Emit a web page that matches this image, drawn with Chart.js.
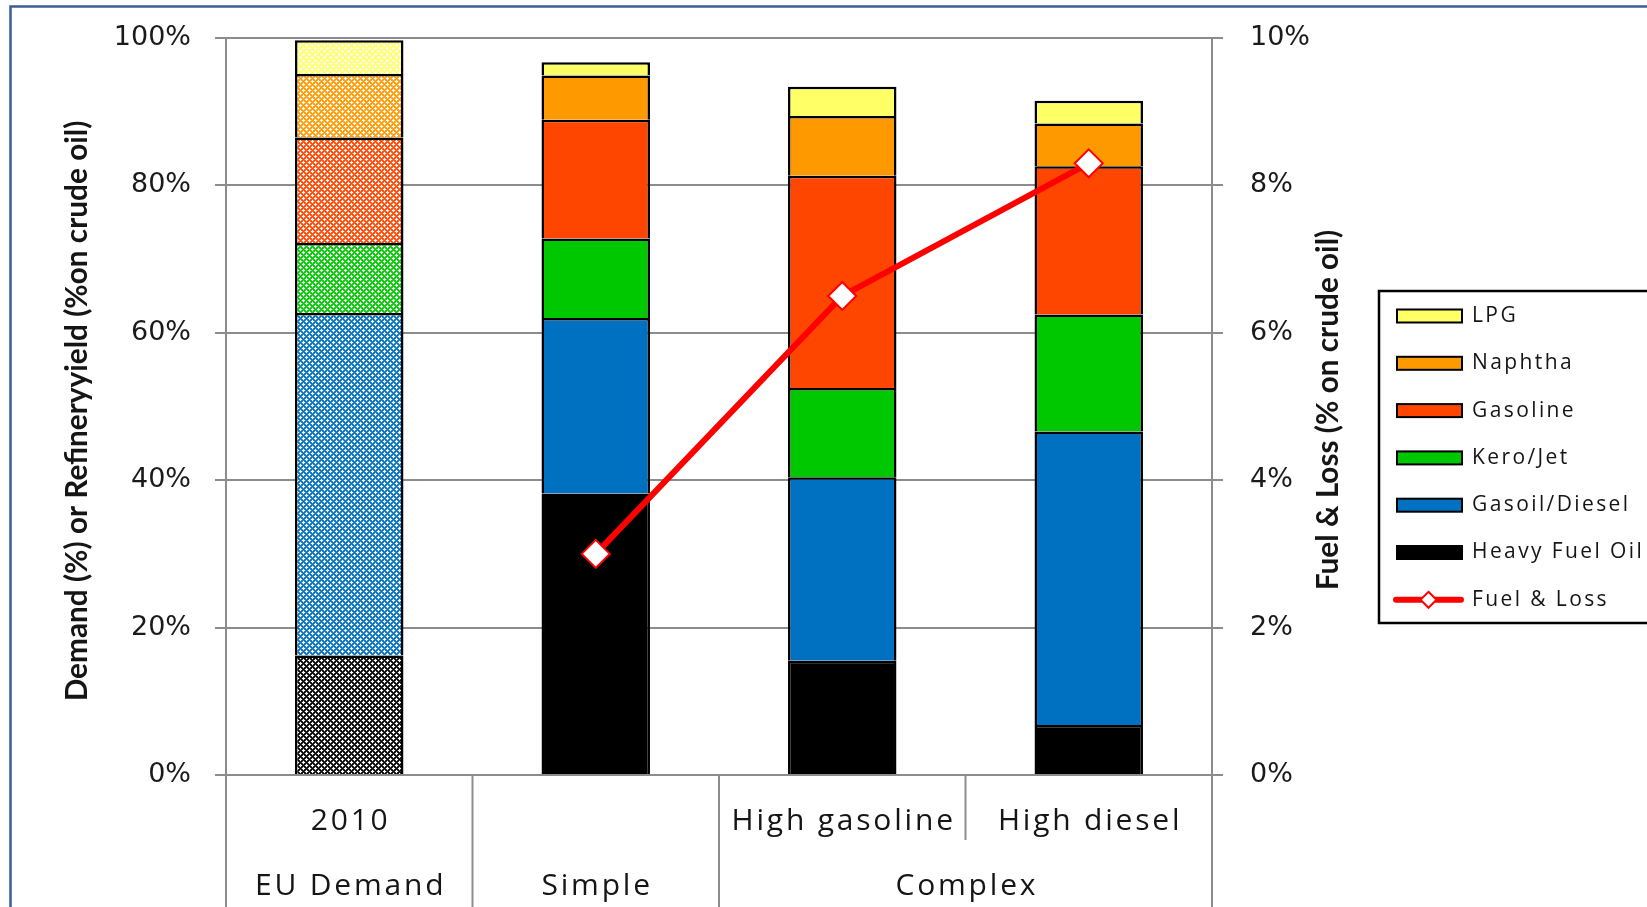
<!DOCTYPE html>
<html><head><meta charset="utf-8">
<script src="https://cdn.jsdelivr.net/npm/chart.js@4.4.1/dist/chart.umd.min.js"></script>
<style>html,body{margin:0;padding:0;background:#fff;overflow:hidden}canvas{display:block}</style>
</head><body>
<canvas id="c" width="1647" height="907"></canvas>
<script>
// ---- data ----
const categories = ['2010', '', 'High gasoline', 'High diesel'];
const groupLabels = ['EU Demand', 'Simple', 'Complex'];
const groupSpans = [1, 1, 2];
const heavyFuelOil = [16.2, 38.2, 15.5, 6.8];
const gasoilDiesel = [46.5, 23.8, 24.9, 39.8];
const keroJet = [9.5, 10.8, 12.1, 15.9];
const gasoline = [14.3, 16.1, 28.8, 20.1];
const naphtha = [8.6, 6.0, 8.1, 5.8];
const lpg = [4.6, 1.8, 4.0, 3.1];
const fuelLoss = [null, 3.0, 6.5, 8.3];
const leftTicks = ['0%', '20%', '40%', '60%', '80%', '100%'];
const rightTicks = ['0%', '2%', '4%', '6%', '8%', '10%'];
const leftTitle = 'Demand (%) or Refineryyield (%on crude oil)';
const rightTitle = 'Fuel & Loss (% on crude oil)';

// ---- styles ----
const COL = {
  hfo: '#000000', gasoil: '#0070C0', kero: '#00C800', gasoline: '#FF4600', naphtha: '#FF9900', lpg: '#FFFF66'
};
const GRID = '#8c8c8c';
const canvas = document.getElementById('c');
const ctx0 = canvas.getContext('2d');

function makePattern(color) {
  const c = document.createElement('canvas'); c.width = 6; c.height = 6;
  const g = c.getContext('2d');
  g.fillStyle = '#fff'; g.fillRect(0, 0, 6, 6);
  g.fillStyle = color;
  for (let y = 0; y < 6; y++) for (let x = 0; x < 6; x++) {
    let a = ((x - y) % 6 + 6) % 6; a = Math.min(a, 6 - a);
    let b = (x + y) % 6; b = Math.min(b, 6 - b);
    const d = Math.min(a, b);
    if (d === 0) { g.globalAlpha = 1; g.fillRect(x, y, 1, 1); }
    else if (d === 1) { g.globalAlpha = 0.8; g.fillRect(x, y, 1, 1); }
  }
  return ctx0.createPattern(c, 'repeat');
}
function fills(color) { return [makePattern(color), color, color, color]; }

function barSet(label, data, color) {
  return {
    type: 'bar', label, data, backgroundColor: fills(color), legendColor: color,
    borderColor: '#000', borderWidth: 2.5, yAxisID: 'y', order: 1,
    barPercentage: 0.44, categoryPercentage: 1.0
  };
}

const datasets = [
  barSet('Heavy Fuel Oil', heavyFuelOil, COL.hfo),
  barSet('Gasoil/Diesel', gasoilDiesel, COL.gasoil),
  barSet('Kero/Jet', keroJet, COL.kero),
  barSet('Gasoline', gasoline, COL.gasoline),
  barSet('Naphtha', naphtha, COL.naphtha),
  barSet('LPG', lpg, COL.lpg),
  {
    type: 'line', label: 'Fuel & Loss', data: fuelLoss, yAxisID: 'y1', order: 0,
    borderColor: '#ff0000', borderWidth: 6, tension: 0,
    pointStyle: 'rectRot', pointRadius: 14, pointBackgroundColor: '#ffffff',
    pointBorderColor: '#ff0000', pointBorderWidth: 2, legendColor: '#ff0000'
  }
];

function drawText(ctx, s, x, y, font, spacing, align) {
  ctx.save();
  ctx.font = font;
  try { ctx.letterSpacing = spacing + 'px'; } catch (e) {}
  ctx.textAlign = align || 'center';
  ctx.textBaseline = 'middle';
  ctx.fillStyle = '#151515';
  const dx = (align === 'center' || !align) ? spacing / 2 : 0;
  ctx.fillText(s, x + dx, y);
  ctx.restore();
}

const decor = {
  id: 'decor',
  afterDraw(chart) {
    const ctx = chart.ctx;
    const xs = chart.scales.x;
    const area = chart.chartArea;
    const n = categories.length;
    const centers = categories.map((_, i) => xs.getPixelForValue(i));
    const bounds = [area.left];
    for (let i = 1; i < n; i++) bounds.push((centers[i - 1] + centers[i]) / 2);
    bounds.push(area.right);

    // separators
    const groupEdges = [0];
    groupSpans.reduce((acc, s) => { acc += s; groupEdges.push(acc); return acc; }, 0);
    ctx.save();
    ctx.strokeStyle = GRID; ctx.lineWidth = 2;
    for (let i = 0; i <= n; i++) {
      const isGroup = groupEdges.includes(i);
      ctx.beginPath();
      ctx.moveTo(bounds[i], area.bottom);
      ctx.lineTo(bounds[i], isGroup ? 907 : 840);
      ctx.stroke();
    }
    ctx.restore();

    // category labels
    const catFont = '30px "Open Sans"';
    categories.forEach((c, i) => { if (c) drawText(ctx, c, centers[i], 821, catFont, 2.8, 'center'); });
    groupLabels.forEach((g, gi) => {
      const x = (bounds[groupEdges[gi]] + bounds[groupEdges[gi + 1]]) / 2;
      drawText(ctx, g, x, 886, catFont, 2.8, 'center');
    });

    // axis titles
    ctx.save();
    ctx.font = 'bold 28px Lato';
    const w = ctx.measureText(leftTitle).width;
    const size = 28 * 581 / w;
    ctx.restore();
    const tfont = 'bold ' + size.toFixed(2) + 'px Lato';
    [[leftTitle, 77, 411], [rightTitle, 1328, 410]].forEach(([t, x, y]) => {
      ctx.save();
      ctx.translate(x, y); ctx.rotate(-Math.PI / 2);
      drawText(ctx, t, 0, 0, tfont, 0, 'center');
      ctx.restore();
    });

    // legend
    ctx.save();
    ctx.strokeStyle = '#000'; ctx.lineWidth = 2.5;
    ctx.strokeRect(1379, 291, 320, 332);
    const items = chart.data.datasets.slice(0, 6).reverse().concat([chart.data.datasets[6]]);
    items.forEach((ds, i) => {
      const cy = 316 + i * 47.3;
      if (ds.type === 'line') {
        ctx.strokeStyle = ds.borderColor; ctx.lineWidth = 6; ctx.lineCap = 'round';
        ctx.beginPath(); ctx.moveTo(1396, cy); ctx.lineTo(1461, cy); ctx.stroke();
        ctx.fillStyle = '#fff'; ctx.lineWidth = 2; ctx.lineCap = 'butt';
        ctx.beginPath();
        ctx.moveTo(1428.5, cy - 8); ctx.lineTo(1436.5, cy); ctx.lineTo(1428.5, cy + 8); ctx.lineTo(1420.5, cy);
        ctx.closePath(); ctx.fill(); ctx.stroke();
      } else {
        ctx.fillStyle = ds.legendColor;
        ctx.fillRect(1397, cy - 6.5, 65, 13);
        ctx.strokeStyle = '#000'; ctx.lineWidth = 2;
        ctx.strokeRect(1397, cy - 6.5, 65, 13);
      }
      drawText(ctx, ds.label, 1472, cy, '21px "Open Sans"', 2.4, 'left');
    });
    ctx.restore();

    // outer frame
    ctx.save();
    ctx.strokeStyle = '#3a5f98'; ctx.lineWidth = 2.5;
    ctx.beginPath();
    ctx.moveTo(10.5, 907); ctx.lineTo(10.5, 6.5); ctx.lineTo(1647, 6.5);
    ctx.stroke();
    ctx.restore();
  }
};

function fixV(width) {
  return function (s) { s.width = width; s.paddingTop = 0; s.paddingBottom = 0; };
}

new Chart(canvas, {
  data: { labels: categories, datasets },
  options: {
    responsive: false, animation: false, devicePixelRatio: 1,
    layout: { padding: { top: 38, left: 0, right: 0, bottom: 0 } },
    plugins: { legend: { display: false }, tooltip: { enabled: false }, title: { display: false } },
    scales: {
      x: {
        stacked: true, offset: true,
        grid: { display: false },
        border: { display: true, color: GRID, width: 2 },
        ticks: { display: false },
        afterFit(s) { s.height = 132; s.paddingLeft = 0; s.paddingRight = 0; }
      },
      y: {
        position: 'left', stacked: true, min: 0, max: 100,
        ticks: { stepSize: 20, padding: 24, color: '#1a1a1a', font: { family: 'DejaVu Sans', size: 27 },
          callback: (v, i) => leftTicks[i] },
        grid: { color: GRID, lineWidth: 2, tickLength: 11, drawTicks: true },
        border: { display: true, color: GRID, width: 2 },
        afterFit: fixV(226)
      },
      y1: {
        position: 'right', min: 0, max: 10,
        ticks: { stepSize: 2, padding: 27, color: '#1a1a1a', font: { family: 'DejaVu Sans', size: 27 },
          callback: (v, i) => rightTicks[i] },
        grid: { drawOnChartArea: false, color: GRID, lineWidth: 2, tickLength: 11, drawTicks: true },
        border: { display: true, color: GRID, width: 2 },
        afterFit: fixV(435)
      }
    }
  },
  plugins: [decor]
});
</script>
</body></html>
